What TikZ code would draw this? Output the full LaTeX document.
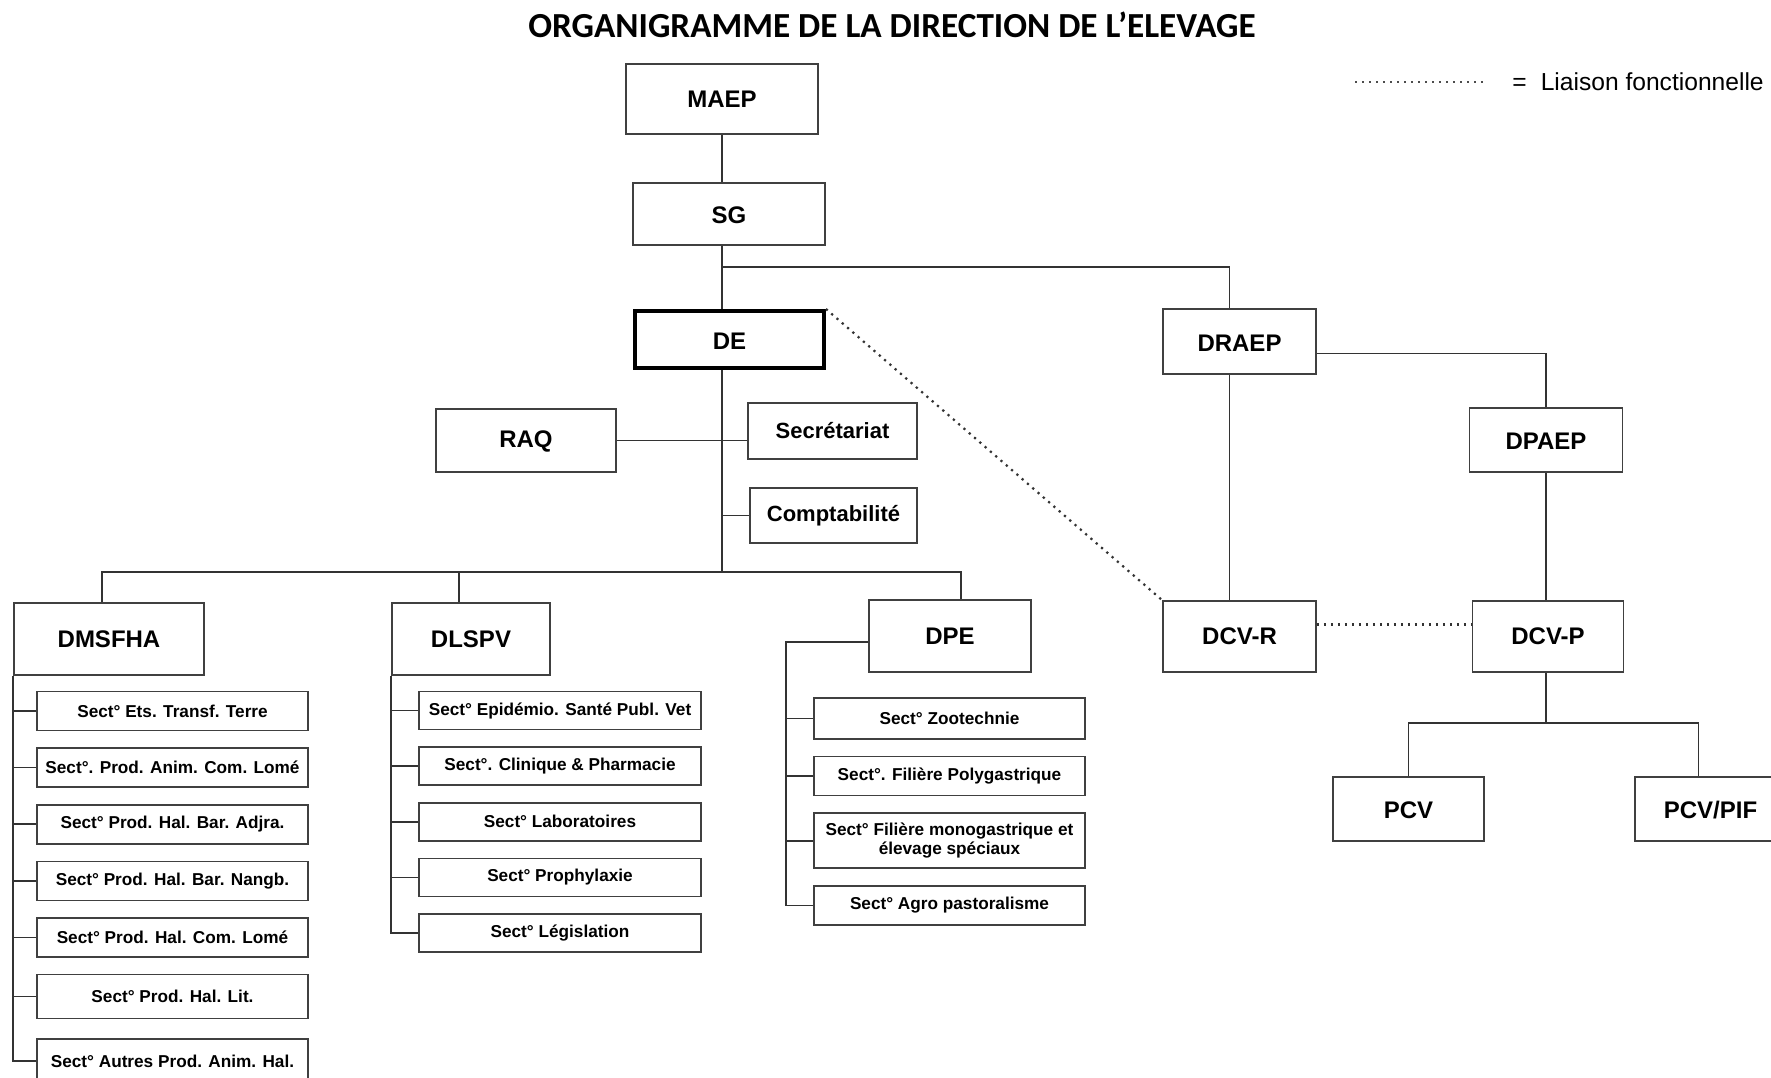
\documentclass[tikz,border=0pt]{standalone}
\usepackage{fontspec}
\setmainfont{Liberation Sans}
\newfontfamily\titlefont{Carlito}
\usepackage{tikz}
\usetikzlibrary{positioning,calc}
\tikzset{
  orgbox/.style={draw=black!75, fill=white, line width=0.8pt, minimum width=76.5pt, minimum height=32pt, inner sep=2pt, font=\fontsize{12}{14}\selectfont\bfseries},
  headbox/.style={orgbox, minimum width=96pt, minimum height=31pt},
  sidebox/.style={orgbox, font=\fontsize{11}{13}\selectfont\bfseries},
  sectbox/.style={draw=black!75, fill=white, line width=0.8pt, minimum width=135.5pt, minimum height=19.5pt, inner sep=1pt, align=center, font=\fontsize{8.6}{9.5}\selectfont\bfseries},
  widesect/.style={sectbox, minimum width=141pt, minimum height=19pt},
  orgline/.style={draw=black!80, line width=0.8pt},
  funcline/.style={draw=black!80, line width=1.1pt, dash pattern=on 1.1pt off 2.4pt},
  legendline/.style={draw=black!70, line width=0.9pt, dash pattern=on 0.9pt off 2.6pt}
}

\begin{document}
\begin{tikzpicture}[x=0.5pt, y=-0.5pt, node distance=8pt]
    \useasboundingbox (0,0) rectangle (1771,1077);
    \fill[white] (0,0) rectangle (1771,1077);
    \node[font=\titlefont\fontsize{17.6}{20}\selectfont\bfseries] (title) at (892,25) {ORGANIGRAMME DE LA DIRECTION DE L’ELEVAGE};
    \coordinate (legA) at (1355,82);
    \coordinate (legB) at (1485,82);
    \draw[legendline] (legA) -- (legB);
    \node[anchor=west, inner sep=0pt, font=\fontsize{12.3}{14}\selectfont] (legend) at (1512,82) {=\hspace{7pt}Liaison fonctionnelle};

    \node[headbox, minimum height=35pt] (maep) at (722,99) {MAEP};
    \node[headbox, text height=9.5pt] (sg) at (729,214) {SG};
    \node[headbox, draw=black, line width=2pt, minimum width=94.5pt, minimum height=28.5pt, text height=10pt] (de) at (729.5,339.5) {DE};
    \node[orgbox, minimum height=32.5pt, text height=9.5pt] (draep) at (1239.5,341.5) {DRAEP};
    \node[orgbox, text height=9.5pt] (dpaep) at (1546,440) {DPAEP};
    \node[orgbox, minimum height=35.5pt] (dcvr) at (1239.5,636.5) {DCV-R};
    \node[orgbox, minimum width=75.5pt, minimum height=35.5pt] (dcvp) at (1548,636.5) {DCV-P};
    \node[orgbox, minimum width=75.5pt, text height=9.5pt] (pcv) at (1408.5,809) {PCV};
    \node[orgbox, minimum width=75.5pt, text height=9.5pt] (pcvpif) at (1710.5,809) {PCV/PIF};
    \node[orgbox, minimum width=90pt, minimum height=31.5pt, text height=9.5pt] (raq) at (526,440.5) {RAQ};
    \node[sidebox, minimum width=84.5pt, minimum height=28pt] (secr) at (832.5,431) {Secrétariat};
    \node[sidebox, minimum width=83.5pt, minimum height=27.5pt] (compta) at (833.5,515.5) {Comptabilité};
    \node[orgbox, minimum width=95pt, minimum height=36pt] (dmsfha) at (109,639) {DMSFHA};
    \node[orgbox, minimum width=79pt, minimum height=36pt] (dlspv) at (471,639) {DLSPV};
    \node[orgbox, minimum width=81pt, minimum height=36pt] (dpe) at (950,636) {DPE};

    \node[sectbox] (m1) at (172.5,711) {Sect° Ets. Transf. Terre};
    \node[sectbox, below=of m1] (m2) {Sect°. Prod. Anim. Com. Lomé};
    \node[sectbox, below=of m2] (m3) {Sect° Prod. Hal. Bar. Adjra.};
    \node[sectbox, below=of m3] (m4) {Sect° Prod. Hal. Bar. Nangb.};
    \node[sectbox, below=of m4] (m5) {Sect° Prod. Hal. Com. Lomé};
    \node[sectbox, below=of m5, minimum height=22pt] (m6) {Sect° Prod. Hal. Lit.};
    \node[sectbox, below=9.5pt of m6, minimum height=22pt] (m7) {Sect° Autres Prod. Anim. Hal.};

    \node[widesect] (l1) at (560,710.5) {Sect° Epidémio. Santé Publ. Vet};
    \node[widesect, below=of l1] (l2) {Sect°. Clinique \& Pharmacie};
    \node[widesect, below=of l2] (l3) {Sect° Laboratoires};
    \node[widesect, below=of l3] (l4) {Sect° Prophylaxie};
    \node[widesect, below=of l4] (l5) {Sect° Législation};

    \node[sectbox, minimum height=20.5pt] (z1) at (949.5,718.5) {Sect° Zootechnie};
    \node[sectbox, below=of z1] (z2) {Sect°. Filière Polygastrique};
    \node[sectbox, below=of z2, minimum height=27.5pt] (z3) {Sect° Filière monogastrique et\\élevage spéciaux};
    \node[sectbox, below=of z3] (z4) {Sect° Agro pastoralisme};

    \coordinate (sgsplit) at (722,267);
    \coordinate (spine) at (722,572);
    \coordinate (pcvsplit) at (1546,723);
    \draw[orgline] (maep) -- (maep |- sg.north);
    \draw[orgline] (maep |- sg.south) -- (maep |- de.north);
    \draw[orgline] (sgsplit) -| ([xshift=-5pt]draep.north);
    \draw[orgline] (maep |- de.south) -- (spine);
    \draw[orgline] (raq.east) -- (raq.east -| secr.west);
    \draw[orgline] (maep |- compta.west) -- (compta.west);
    \draw[orgline] ([xshift=-3.5pt]dmsfha.north) |- (spine) -| ([xshift=5.5pt]dpe.north);
    \draw[orgline] ([xshift=-6pt]dlspv.north) |- (spine);

    \draw[orgline] ([xshift=-5pt]draep.south) -- ([xshift=-5pt]dcvr.north);
    \draw[orgline] ([yshift=-6pt]draep.east) -| (dpaep.north);
    \draw[orgline] (dpaep.south) -- (dpaep.south |- dcvp.north);
    \draw[orgline] (dpaep.south |- dcvp.south) -- (pcvsplit);
    \draw[orgline] (pcv.north) |- (pcvsplit) -| ([xshift=-6pt]pcvpif.north);

    \draw[funcline] (de.north east) -- (dcvr.north west);
    \draw[funcline] ([yshift=6pt]dcvr.east) -- ([yshift=6pt]dcvp.west);

    \draw[orgline] (dmsfha.south west) |- (m7.west);
    \foreach \i in {1,...,6} \draw[orgline] (dmsfha.south west |- m\i.west) -- (m\i.west);
    \draw[orgline] (dlspv.south west) |- (l5.west);
    \foreach \i in {1,...,4} \draw[orgline] (dlspv.south west |- l\i.west) -- (l\i.west);
    \draw[orgline] ([yshift=-3pt]dpe.west) -| ($(z4.west)+(-27,0)$) -- (z4.west);
    \foreach \i in {1,2,3} \draw[orgline] ($(z\i.west)+(-27,0)$) -- (z\i.west);
\end{tikzpicture}
\end{document}
